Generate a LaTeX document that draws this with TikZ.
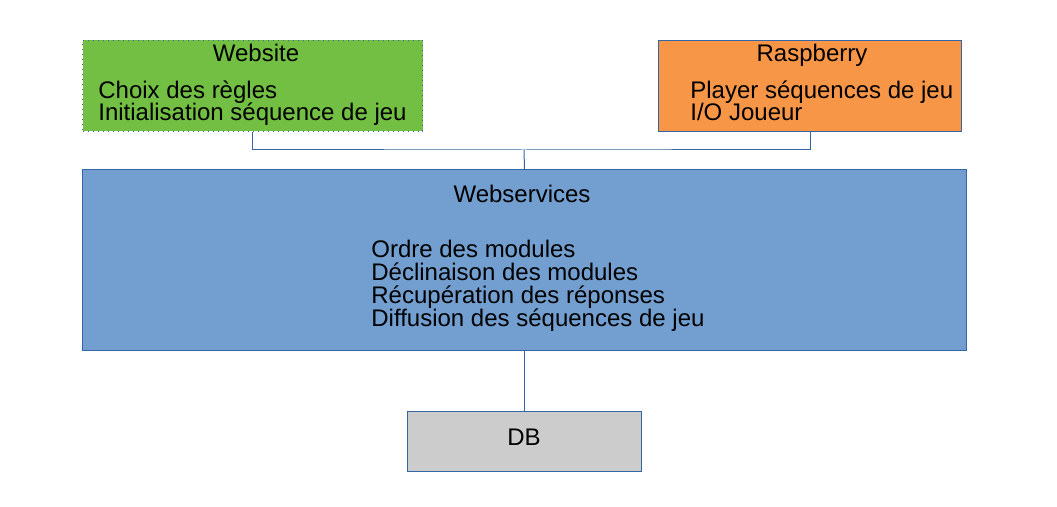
\documentclass[tikz,border=0pt]{standalone}
\usepackage{fontspec}
\setmainfont{Liberation Sans}
\definecolor{webgreen}{RGB}{114,191,68}
\definecolor{rpiorange}{RGB}{247,150,70}
\definecolor{wsblue}{RGB}{114,159,207}
\definecolor{dbgray}{RGB}{204,204,204}
\definecolor{edgeblue}{RGB}{52,101,164}
\tikzset{
    block/.style={draw=edgeblue, line width=0.5pt, inner sep=0pt, anchor=north west},
    link/.style={draw=edgeblue, line width=0.5pt},
    txt/.style={inner sep=0pt, font=\fontsize{12}{11.5}\selectfont}
}
\begin{document}
\begin{tikzpicture}[x=0.5pt, y=-0.5pt]
    \useasboundingbox (0,0) rectangle (1057,507);

    % Boxes
    \node[block, fill=webgreen, draw=edgeblue, dotted, minimum width=170pt, minimum height=45.5pt] (website) at (82,40) {};
    \node[block, fill=rpiorange, minimum width=151.5pt, minimum height=45.5pt] (raspberry) at (658,40) {};
    \node[block, fill=wsblue, minimum width=442pt, minimum height=90.5pt] (webservices) at (82,169) {};
    \node[block, fill=dbgray, minimum width=117pt, minimum height=30pt] (db) at (407,411) {};

    % Titles
    \node[txt, anchor=base] (websitetitle) at (256,62) {Website};
    \node[txt, anchor=base] (raspberrytitle) at (812,62) {Raspberry};
    \node[txt, anchor=base] (webservicestitle) at (522,203) {Webservices};
    \node[txt, anchor=base] (dbtitle) at (524,446) {DB};

    % Contents
    \foreach \y/\item [count=\i] in {
        99/{Choix des règles},
        121/{Initialisation séquence de jeu}
    } {
        \node[txt, anchor=base west] (website-\i) at (98,\y) {\item};
    }
    \foreach \y/\item [count=\i] in {
        99/{Player séquences de jeu},
        121/{I/O Joueur}
    } {
        \node[txt, anchor=base west] (raspberry-\i) at (690,\y) {\item};
    }
    \foreach \y/\item [count=\i] in {
        258/{Ordre des modules},
        281/{Déclinaison des modules},
        304/{Récupération des réponses},
        327/{Diffusion des séquences de jeu}
    } {
        \node[txt, anchor=base west] (webservices-\i) at (371,\y) {\item};
    }

    % Links
    \coordinate (join) at (524,150);
    \draw[link] (website.south) |- (join) -| (raspberry.south);
    \draw[link] (webservices.north) -- (join);
    \draw[link] (webservices.south) -- (db.north);
\end{tikzpicture}
\end{document}
